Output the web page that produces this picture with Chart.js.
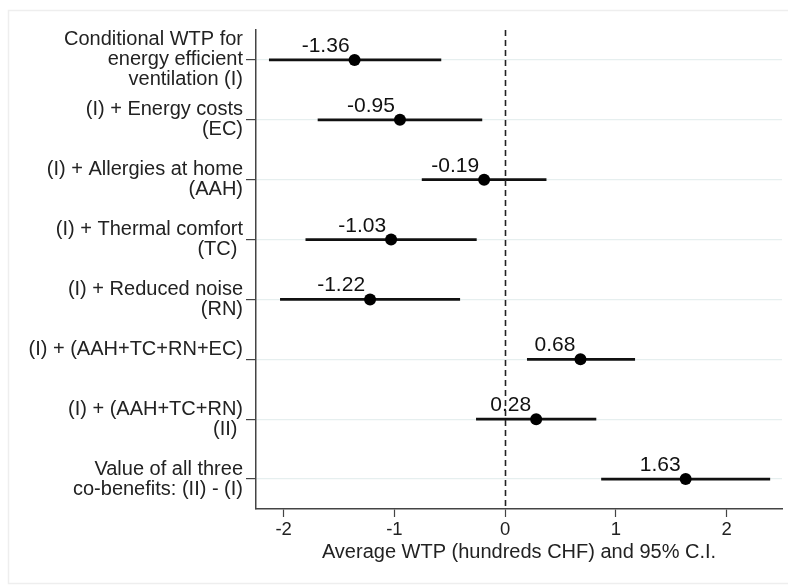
<!DOCTYPE html>
<html>
<head>
<meta charset="utf-8">
<script src="https://cdn.jsdelivr.net/npm/chart.js@4.4.1/dist/chart.umd.min.js"></script>
<style>
  html, body { margin: 0; padding: 0; background: #ffffff; }
  #wrap { position: relative; width: 788px; height: 585px; }
</style>
</head>
<body>
<div id="wrap"><canvas id="chart" width="788" height="585"></canvas></div>
<script>
// Willingness-to-pay estimates (hundreds CHF) with 95% confidence intervals
const categories = [
  ["Conditional WTP for", "energy efficient", "ventilation (I)"],
  ["(I) + Energy costs", "(EC)"],
  ["(I) + Allergies at home", "(AAH)"],
  ["(I) + Thermal comfort", "(TC) "],
  ["(I) + Reduced noise", "(RN)"],
  ["(I) + (AAH+TC+RN+EC)", ""],
  ["(I) + (AAH+TC+RN)", "(II) "],
  ["Value of all three", "co-benefits: (II) - (I)"]
];
const wtp    = [-1.36, -0.95, -0.19, -1.03, -1.22, 0.68, 0.28, 1.63];
const ciLow  = [-2.13, -1.69, -0.75, -1.80, -2.03, 0.20, -0.26, 0.87];
const ciHigh = [-0.58, -0.21, 0.37, -0.26, -0.41, 1.17, 0.82, 2.39];
const xTicks = [-2, -1, 0, 1, 2];

const FONT = "'Liberation Sans', Arial, Helvetica, sans-serif";

// Faint frame around the whole figure
const framePlugin = {
  id: 'frame',
  beforeDraw(chart) {
    const ctx = chart.ctx;
    ctx.save();
    ctx.strokeStyle = '#eeeeee';
    ctx.lineWidth = 1.5;
    ctx.strokeRect(8.5, 10.5, 800, 573);
    ctx.restore();
  }
};

// Point estimate printed above-left of each marker
const valueLabels = {
  id: 'valueLabels',
  afterDatasetsDraw(chart) {
    const ctx = chart.ctx;
    const xs = chart.scales.x, ys = chart.scales.y;
    ctx.save();
    ctx.font = '21px ' + FONT;
    ctx.fillStyle = '#111';
    ctx.textAlign = 'right';
    ctx.textBaseline = 'alphabetic';
    wtp.forEach((v, i) => {
      const px = xs.getPixelForValue(v);
      const py = ys.getPixelForValue(i);
      ctx.fillText(v.toFixed(2), px - 5, py - 8);
    });
    ctx.restore();
  }
};

// Dashed reference line at zero
const zeroLine = {
  id: 'zeroLine',
  afterDraw(chart) {
    const ctx = chart.ctx;
    const xs = chart.scales.x, area = chart.chartArea;
    const px = Math.round(xs.getPixelForValue(0)) + 0.5;
    ctx.save();
    ctx.strokeStyle = '#222';
    ctx.lineWidth = 1.6;
    ctx.setLineDash([6, 4]);
    ctx.beginPath();
    ctx.moveTo(px, area.top);
    ctx.lineTo(px, area.bottom);
    ctx.stroke();
    ctx.restore();
  }
};

new Chart(document.getElementById('chart'), {
  type: 'bar',
  data: {
    labels: categories,
    datasets: [
      {
        type: 'bar',
        indexAxis: 'y',
        data: ciLow.map((lo, i) => [lo, ciHigh[i]]),
        backgroundColor: '#111',
        borderWidth: 0,
        barThickness: 2,
        order: 2
      },
      {
        type: 'line',
        indexAxis: 'y',
        data: wtp,
        showLine: false,
        pointRadius: 6,
        pointHoverRadius: 6,
        pointBackgroundColor: '#000',
        pointBorderColor: '#000',
        pointBorderWidth: 0,
        order: 1
      }
    ]
  },
  options: {
    indexAxis: 'y',
    responsive: false,
    animation: false,
    devicePixelRatio: 1,
    layout: { padding: { top: 30, right: 5, left: 0, bottom: 21 } },
    plugins: {
      legend: { display: false },
      tooltip: { enabled: false }
    },
    scales: {
      x: {
        type: 'linear',
        min: -2.25,
        max: 2.5,
        afterBuildTicks(scale) {
          scale.ticks = xTicks.map(v => ({ value: v }));
        },
        afterFit(scale) { scale.height = 55; },
        ticks: {
          font: { family: FONT, size: 18.5 },
          color: '#222',
          padding: 2,
          callback: v => String(v)
        },
        grid: {
          drawOnChartArea: false,
          drawTicks: true,
          tickLength: 8,
          tickColor: '#444',
          tickWidth: 1.2
        },
        border: { color: '#444', width: 1.5 },
        title: {
          display: true,
          text: 'Average WTP (hundreds CHF) and 95% C.I.',
          font: { family: FONT, size: 20 },
          color: '#222',
          padding: { top: 1, bottom: 0 }
        }
      },
      y: {
        type: 'category',
        offset: true,
        afterFit(scale) { scale.width = 256; },
        ticks: {
          font: { family: FONT, size: 20, lineHeight: 1.0 },
          color: '#222',
          padding: 3,
          autoSkip: false
        },
        grid: {
          offset: false,
          color: '#e6efef',
          lineWidth: 1.2,
          drawTicks: true,
          tickLength: 10,
          tickColor: '#444',
          tickWidth: 1.2
        },
        border: { color: '#444', width: 1.5 }
      }
    }
  },
  plugins: [framePlugin, valueLabels, zeroLine]
});
</script>
</body>
</html>
